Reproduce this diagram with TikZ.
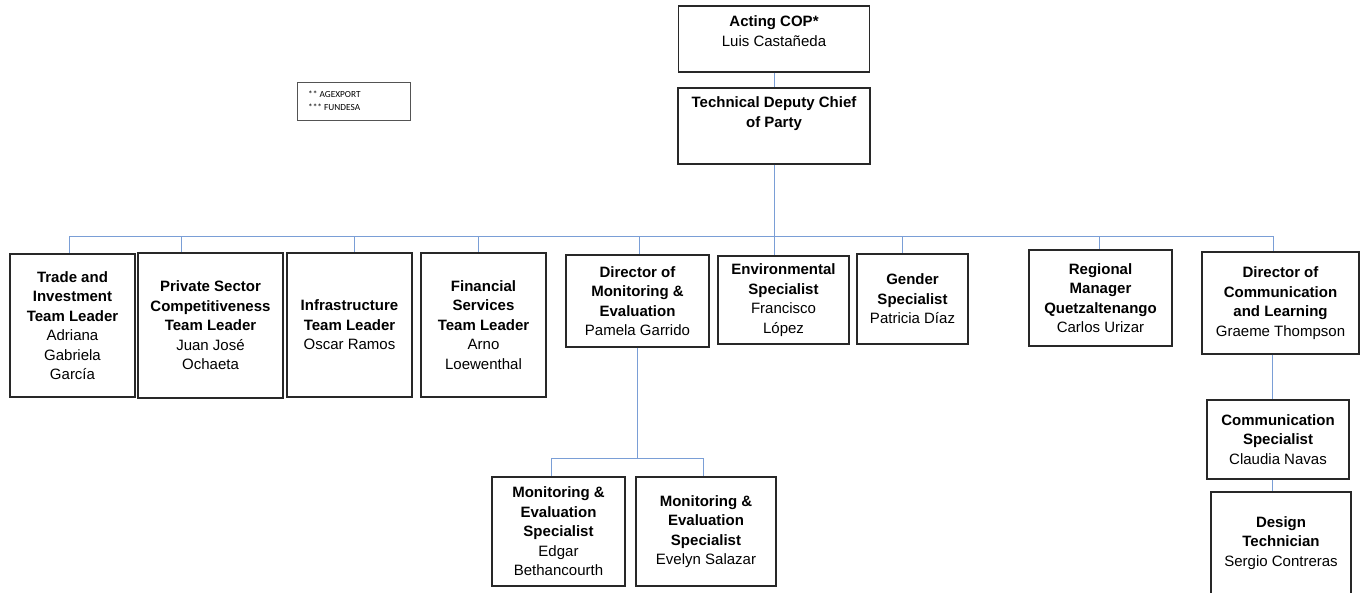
\documentclass[tikz,border=0pt]{standalone}
\usepackage{fontspec}
\setmainfont{Liberation Sans}
\newfontfamily\legendfont{Carlito}
\definecolor{linkblue}{RGB}{122,158,214}
\definecolor{boxgray}{RGB}{40,40,40}

\begin{document}
\begin{tikzpicture}[x=1pt,y=-1pt,
  box/.style={draw=boxgray, line width=1.3pt, inner sep=0pt, align=center,
              font=\fontsize{15}{19.5}\selectfont},
  boxtext/.style={inner sep=0pt, align=center, font=\fontsize{15}{20.5}\selectfont},
  legendbox/.style={draw=boxgray!80, line width=0.8pt, inner sep=0pt},
  legendtext/.style={inner sep=0pt, align=left, font=\legendfont\fontsize{9.3}{13}\selectfont},
  link/.style={draw=linkblue, line width=1pt},
]
\useasboundingbox (0,0) rectangle (1367,592);

% legend of the partner acronyms
\node[legendbox, minimum width=113, minimum height=38] (legend) at (353.5,101) {};
\node[legendtext, anchor=west] (legendT) at (308,100.5) {** AGEXPORT\\*** FUNDESA};

% top of the chart
\node[box, minimum width=191, minimum height=66] (cop) at (774,39) {};
\node[boxtext] (copT) at (774,31) {\textbf{Acting COP*}\\Luis Castañeda};
\node[box, minimum width=192, minimum height=76] (tdcop) at (774,126) {};
\node[boxtext] (tdcopT) at (774,113.5) {\textbf{Technical Deputy Chief}\\\textbf{of Party}};

% direct reports
\node[box, minimum width=125, minimum height=143] (trade) at (72.5,325.5)
  {\textbf{Trade and}\\\textbf{Investment}\\\textbf{Team Leader}\\Adriana\\Gabriela\\García};
\node[box, minimum width=145, minimum height=145] (priv) at (210.5,325.5)
  {\textbf{Private Sector}\\\textbf{Competitiveness}\\\textbf{Team Leader}\\Juan José\\Ochaeta};
\node[box, minimum width=125, minimum height=144] (infra) at (349.5,325)
  {\textbf{Infrastructure}\\\textbf{Team Leader}\\Oscar Ramos};
\node[box, minimum width=125, minimum height=144] (fin) at (483.5,325)
  {\textbf{Financial}\\\textbf{Services}\\\textbf{Team Leader}\\Arno\\Loewenthal};
\node[box, minimum width=143, minimum height=92] (dirme) at (637.5,301)
  {\textbf{Director of}\\\textbf{Monitoring \&}\\\textbf{Evaluation}\\Pamela Garrido};
\node[box, minimum width=131, minimum height=88] (env) at (783.5,300)
  {\textbf{Environmental}\\\textbf{Specialist}\\Francisco\\López};
\node[box, minimum width=111, minimum height=90] (gender) at (912.5,299)
  {\textbf{Gender}\\\textbf{Specialist}\\Patricia Díaz};
\node[box, minimum width=143, minimum height=96] (reg) at (1100.5,298)
  {\textbf{Regional}\\\textbf{Manager}\\\textbf{Quetzaltenango}\\Carlos Urizar};
\node[box, minimum width=157, minimum height=102] (dircomm) at (1280.5,303)
  {\textbf{Director of}\\\textbf{Communication}\\\textbf{and Learning}\\Graeme Thompson};

% communication team
\node[box, minimum width=142, minimum height=79] (commspec) at (1278,439.5)
  {\textbf{Communication}\\\textbf{Specialist}\\Claudia Navas};
\node[box, minimum width=140, minimum height=102] (design) at (1281,543)
  {\textbf{Design}\\\textbf{Technician}\\Sergio Contreras};

% monitoring & evaluation team
\node[box, minimum width=133, minimum height=109] (mes1) at (558.5,531.5)
  {\textbf{Monitoring \&}\\\textbf{Evaluation}\\\textbf{Specialist}\\Edgar\\Bethancourth};
\node[box, minimum width=140, minimum height=109] (mes2) at (706,531.5)
  {\textbf{Monitoring \&}\\\textbf{Evaluation}\\\textbf{Specialist}\\Evelyn Salazar};

% bus and drop points
\coordinate (dTrade) at (69,236);
\coordinate (dPriv) at (181,236);
\coordinate (dInfra) at (354,236);
\coordinate (dFin) at (478,236);
\coordinate (dDirme) at (639,236);
\coordinate (dGender) at (902,236);
\coordinate (dReg) at (1099,236);
\coordinate (dComm) at (1273,236);
\coordinate (meL) at (551,458);
\coordinate (meR) at (703,458);
\coordinate (meMid) at (637,458);
\coordinate (cv) at (1272,0);

% connectors
\draw[link] (cop.south) -- (tdcop.north);
\draw[link] (tdcop.south) -- (env.north -| tdcop.south);
\draw[link] (dTrade) -- (dComm);
\foreach \d/\n in {dTrade/trade, dPriv/priv, dInfra/infra, dFin/fin,
                   dDirme/dirme, dGender/gender, dReg/reg, dComm/dircomm}
  \draw[link] (\d) -- (\d |- \n.north);
\draw[link] (dirme.south -| meMid) -- (meMid);
\draw[link] (meL) -- (meR);
\draw[link] (meL) -- (meL |- mes1.north);
\draw[link] (meR) -- (meR |- mes2.north);
\draw[link] (dircomm.south -| cv) -- (commspec.north -| cv);
\draw[link] (commspec.south -| cv) -- (design.north -| cv);
\end{tikzpicture}
\end{document}
